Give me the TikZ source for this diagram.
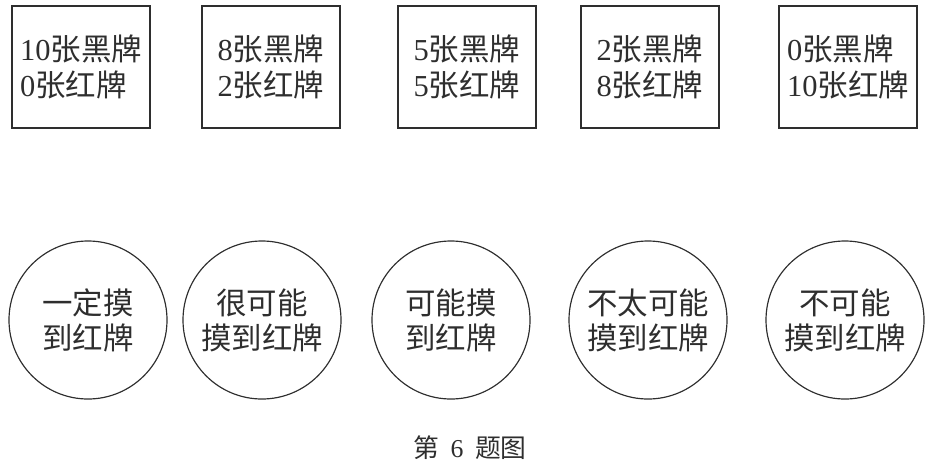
\documentclass[tikz,border=0pt]{standalone}
\usepackage{fontspec}
\setmainfont{Liberation Serif}
\newfontfamily\cjk{Noto Sans CJK SC}
\usepackage{tikz}
\usetikzlibrary{positioning}
\definecolor{inkgray}{HTML}{2E2E2E}
\newcommand{\num}[1]{{\rmfamily #1}}

\begin{document}
\begin{tikzpicture}[x=0.03cm, y=-0.03cm,
    cardbox/.style={draw=inkgray, line width=1pt, minimum width=4.14cm,
                    minimum height=3.66cm, inner sep=0pt, align=left,
                    text=inkgray, font=\cjk\fontsize{26}{30}\selectfont},
    guess/.style={draw=inkgray, line width=1pt, circle, minimum size=4.74cm,
                  inner sep=0pt, align=center, text=inkgray,
                  font=\cjk\fontsize{26}{30}\selectfont},
  ]
    \useasboundingbox (0,0) rectangle (929,472);
    % boxes: how many black and red cards
    \node[cardbox] (all)   at (81,67)  {\num{10}张黑牌\\\num{0}张红牌};
    \node[cardbox] (most)  at (271,67) {\num{8}张黑牌\\\num{2}张红牌};
    \node[cardbox] (half)  at (467,67) {\num{5}张黑牌\\\num{5}张红牌};
    \node[cardbox] (few)   at (650,67) {\num{2}张黑牌\\\num{8}张红牌};
    \node[cardbox] (none)  at (848,67) {\num{0}张黑牌\\\num{10}张红牌};
    % circles: how likely a red card is
    \node[guess] (sure)     at (88,320)  {一定摸\\到红牌};
    \node[guess] (likely)   at (262,320) {很可能\\摸到红牌};
    \node[guess] (maybe)    at (451,320) {可能摸\\到红牌};
    \node[guess] (unlikely) at (648,320) {不太可能\\摸到红牌};
    \node[guess] (never)    at (845,320) {不可能\\摸到红牌};
    \node[text=inkgray, font=\fontsize{22}{24}\selectfont] (caption) at (470,448)
      {{\cjk 第}\hspace{0.45em}6\hspace{0.45em}{\cjk 题图}};
  \end{tikzpicture}
\end{document}
